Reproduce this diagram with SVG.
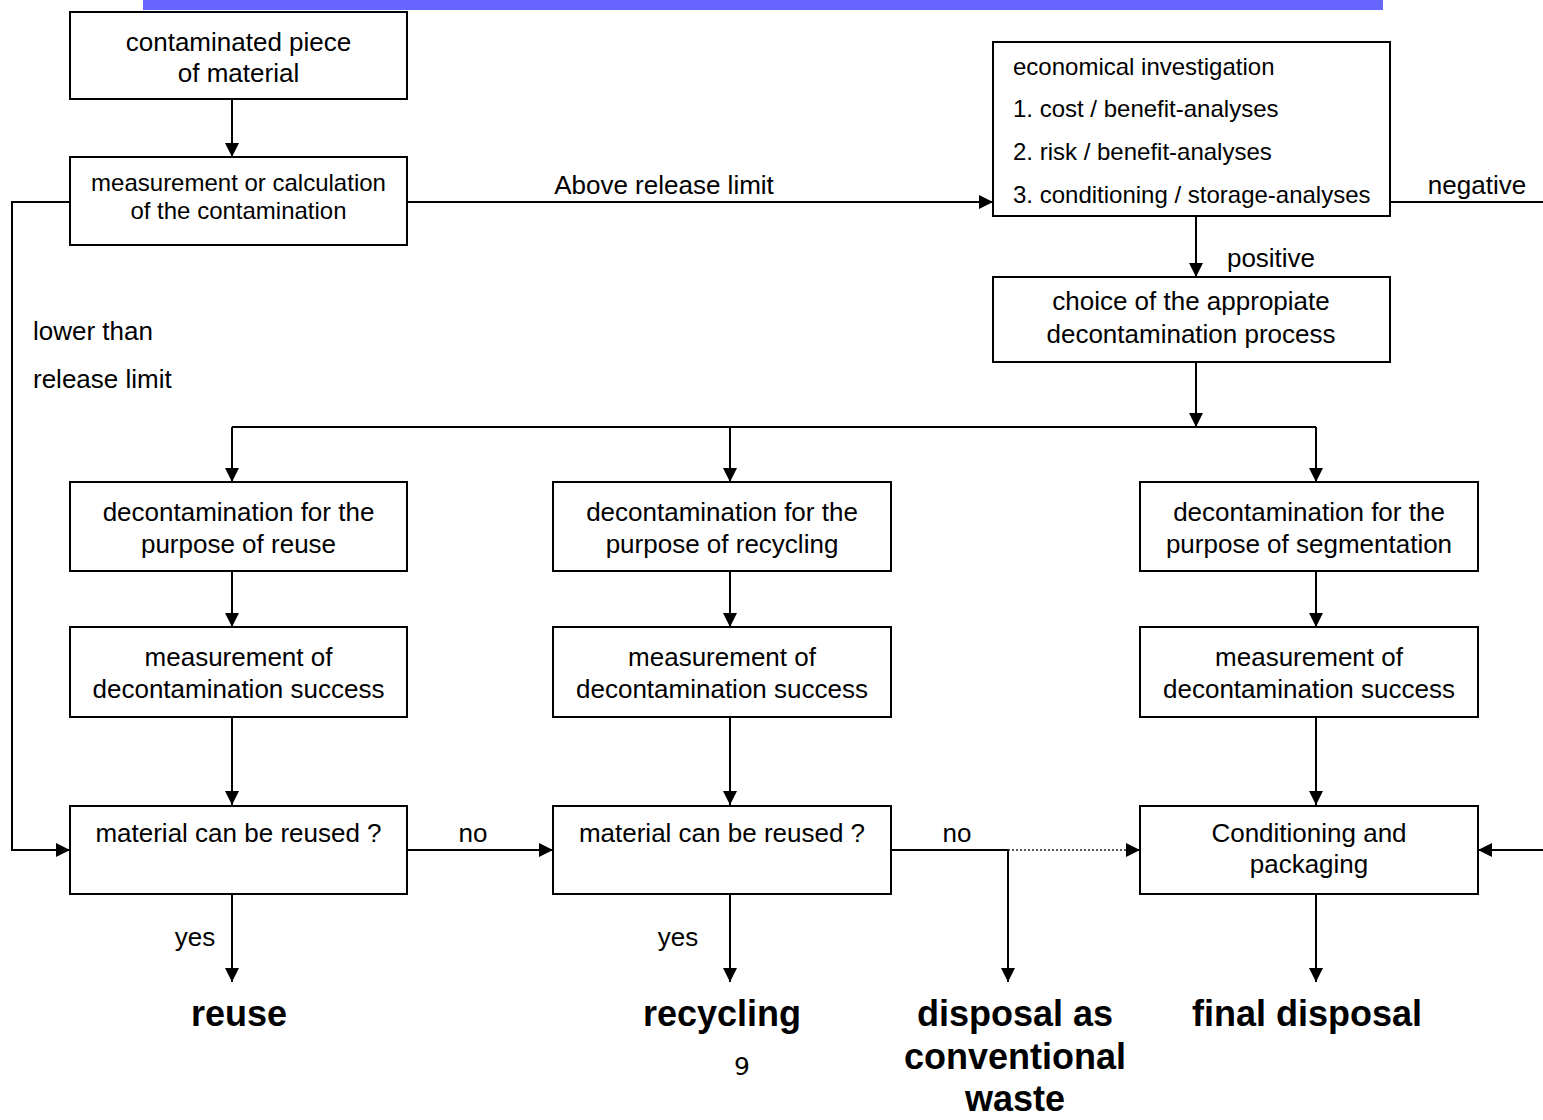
<svg xmlns="http://www.w3.org/2000/svg" width="1543" height="1120" viewBox="0 0 1543 1120">
<defs>
<style>
.box{fill:#fff;stroke:#000;stroke-width:2}
.t{font-family:"Liberation Sans",Arial,sans-serif;font-size:26px;fill:#000;text-anchor:middle}
.s{font-size:24px}
.l{text-anchor:start}
.b{font-weight:bold;font-size:36px}
.c{fill:none;stroke:#000;stroke-width:2}
.d{fill:none;stroke:#222;stroke-width:1.5;stroke-dasharray:2 2}
</style>
<marker id="ah" markerUnits="userSpaceOnUse" markerWidth="14" markerHeight="14" viewBox="0 0 14 14" refX="14" refY="7" orient="auto">
<path d="M0,0 L14,7 L0,14 z" fill="#000"/>
</marker>
</defs>
<rect width="1543" height="1120" fill="#fff"/>
<rect x="143" y="0" width="1240" height="10" fill="#6666FF"/>

<g id="connectors">
<path class="c" d="M232,99 V157" marker-end="url(#ah)"/>
<path class="c" d="M70,202 H12 V850 H70" marker-end="url(#ah)"/>
<path class="c" d="M407,202 H993" marker-end="url(#ah)"/>
<path class="c" d="M1390,202 H1543"/>
<path class="c" d="M1196,216 V277" marker-end="url(#ah)"/>
<path class="c" d="M1196,362 V427" marker-end="url(#ah)"/>
<path class="c" d="M232,427 H1316"/>
<path class="c" d="M232,427 V482" marker-end="url(#ah)"/>
<path class="c" d="M730,427 V482" marker-end="url(#ah)"/>
<path class="c" d="M1316,427 V482" marker-end="url(#ah)"/>
<path class="c" d="M232,571 V627" marker-end="url(#ah)"/>
<path class="c" d="M730,571 V627" marker-end="url(#ah)"/>
<path class="c" d="M1316,571 V627" marker-end="url(#ah)"/>
<path class="c" d="M232,717 V805" marker-end="url(#ah)"/>
<path class="c" d="M730,717 V805" marker-end="url(#ah)"/>
<path class="c" d="M1316,717 V805" marker-end="url(#ah)"/>
<path class="c" d="M407,850 H553" marker-end="url(#ah)"/>
<path class="c" d="M891,850 H1008 V982" marker-end="url(#ah)"/>
<path class="d" d="M1008,850 H1128"/>
<path class="c" d="M1126,850 H1140" marker-end="url(#ah)"/>
<path class="c" d="M1543,850 H1478" marker-end="url(#ah)"/>
<path class="c" d="M232,893 V982" marker-end="url(#ah)"/>
<path class="c" d="M730,893 V982" marker-end="url(#ah)"/>
<path class="c" d="M1316,893 V982" marker-end="url(#ah)"/>
<text class="t" x="664" y="194">Above release limit</text>
<text class="t" x="1477" y="194">negative</text>
<text class="t" x="1271" y="267">positive</text>
<text class="t l" x="33" y="340">lower than</text>
<text class="t l" x="33" y="388">release limit</text>
<text class="t" x="473" y="842">no</text>
<text class="t" x="957" y="842">no</text>
<text class="t" x="195" y="946">yes</text>
<text class="t" x="678" y="946">yes</text>
</g>

<g id="n-start">
<rect class="box" x="70" y="12" width="337" height="87"/>
<text class="t" x="238.5" y="51">contaminated piece</text>
<text class="t" x="238.5" y="82">of material</text>
</g>
<g id="n-measure">
<rect class="box" x="70" y="157" width="337" height="88"/>
<text class="t s" x="238.5" y="191">measurement or calculation</text>
<text class="t s" x="238.5" y="219">of the contamination</text>
</g>
<g id="n-econ">
<rect class="box" x="993" y="42" width="397" height="174"/>
<text class="t s l" x="1013" y="75">economical investigation</text>
<text class="t s l" x="1013" y="117">1. cost / benefit-analyses</text>
<text class="t s l" x="1013" y="160">2. risk / benefit-analyses</text>
<text class="t s l" x="1013" y="203">3. conditioning / storage-analyses</text>
</g>
<g id="n-choice">
<rect class="box" x="993" y="277" width="397" height="85"/>
<text class="t" x="1191" y="310">choice of the appropiate</text>
<text class="t" x="1191" y="343">decontamination process</text>
</g>
<g id="n-decon-reuse">
<rect class="box" x="70" y="482" width="337" height="89"/>
<text class="t" x="238.5" y="521">decontamination for the</text>
<text class="t" x="238.5" y="553">purpose of reuse</text>
</g>
<g id="n-decon-recycling">
<rect class="box" x="553" y="482" width="338" height="89"/>
<text class="t" x="722" y="521">decontamination for the</text>
<text class="t" x="722" y="553">purpose of recycling</text>
</g>
<g id="n-decon-segmentation">
<rect class="box" x="1140" y="482" width="338" height="89"/>
<text class="t" x="1309" y="521">decontamination for the</text>
<text class="t" x="1309" y="553">purpose of segmentation</text>
</g>
<g id="n-meas-a">
<rect class="box" x="70" y="627" width="337" height="90"/>
<text class="t" x="238.5" y="666">measurement of</text>
<text class="t" x="238.5" y="698">decontamination success</text>
</g>
<g id="n-meas-b">
<rect class="box" x="553" y="627" width="338" height="90"/>
<text class="t" x="722" y="666">measurement of</text>
<text class="t" x="722" y="698">decontamination success</text>
</g>
<g id="n-meas-c">
<rect class="box" x="1140" y="627" width="338" height="90"/>
<text class="t" x="1309" y="666">measurement of</text>
<text class="t" x="1309" y="698">decontamination success</text>
</g>
<g id="n-reuse-q-a">
<rect class="box" x="70" y="806" width="337" height="88"/>
<text class="t" x="238.5" y="842">material can be reused ?</text>
</g>
<g id="n-reuse-q-b">
<rect class="box" x="553" y="806" width="338" height="88"/>
<text class="t" x="722" y="842">material can be reused ?</text>
</g>
<g id="n-conditioning">
<rect class="box" x="1140" y="806" width="338" height="88"/>
<text class="t" x="1309" y="842">Conditioning and</text>
<text class="t" x="1309" y="873">packaging</text>
</g>
<g id="n-out-reuse"><text class="t b" x="239" y="1026">reuse</text></g>
<g id="n-out-recycling"><text class="t b" x="722" y="1026">recycling</text></g>
<g id="n-out-conventional">
<text class="t b" x="1015" y="1026">disposal as</text>
<text class="t b" x="1015" y="1069">conventional</text>
<text class="t b" x="1015" y="1111">waste</text>
</g>
<g id="n-out-final"><text class="t b" x="1307" y="1026">final disposal</text></g>
<text x="742" y="1075" font-family="DejaVu Sans, sans-serif" font-size="25" text-anchor="middle" fill="#000">9</text>
</svg>
